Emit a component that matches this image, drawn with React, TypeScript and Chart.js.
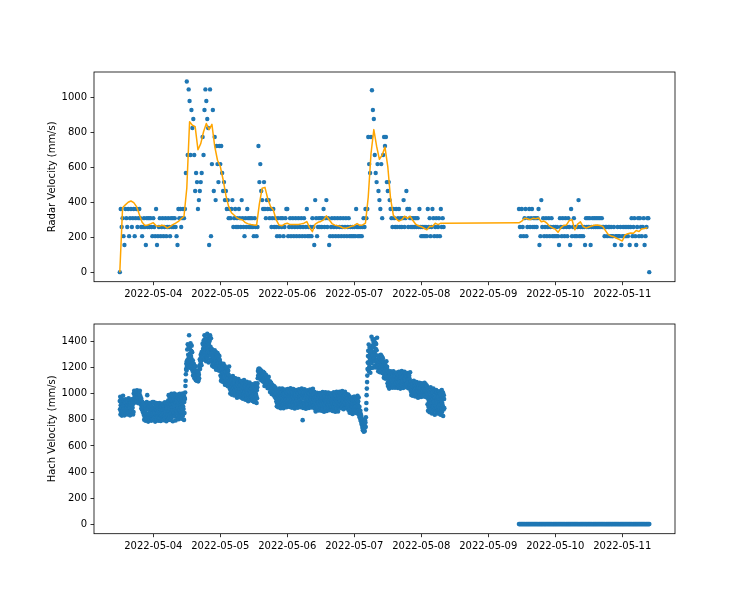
import { useEffect, useRef } from "react";
import { Chart, registerables } from "chart.js";

Chart.register(...registerables);

// Time axis: days since 2022-05-03 00:00
const dayTickValues = [1, 2, 3, 4, 5, 6, 7, 8];
const dayTickLabels = [
  "2022-05-04",
  "2022-05-05",
  "2022-05-06",
  "2022-05-07",
  "2022-05-08",
  "2022-05-09",
  "2022-05-10",
  "2022-05-11",
];
const radarTickValues = [0, 200, 400, 600, 800, 1000];
const hachTickValues = [0, 200, 400, 600, 800, 1000, 1200, 1400];

const RADAR_STEP = 1 / 72; // 20-minute samples
const HACH_STEP = 1 / 288; // 5-minute samples
const SMOOTH_STEP = 1 / 24; // hourly smoothed radar
const RUN1_START = 0.5; // 2022-05-03 12:00
const RUN2_START = 6 + 11 / 24; // 2022-05-09 11:00

// Radar velocity (mm/s), 20-minute samples
const radarMay03 = [0, 361, 258, 309, 206, 155, 361, 309, 258, 361, 206, 309, 361, 258, 309, 361, 206, 309, 361, 258, 309, 361, 309, 258, 206, 258, 309, 258, 155, 309, 258, 309, 258, 309, 258, 206];
const radarMay04 = [
  309, 258, 206, 361, 155, 206, 258, 309, 206, 258, 309, 206, 258, 309, 206, 258, 309, 258, 206, 309, 258, 309, 258, 309, 258, 206, 155, 361, 309, 361, 258, 309, 361, 309,
  361, 567, 1090, 670, 1045, 979, 670, 927, 824, 876, 670, 464, 567, 515, 361, 412, 464, 515, 567, 773, 670, 927, 1045, 979, 876, 824, 155, 1045, 206, 618, 927, 464, 773, 412, 721, 618, 515, 721,
];
const radarMay05 = [
  618, 721, 567, 464, 515, 412, 464, 361, 412, 309, 361,
  309, 361, 412, 258, 309, 361, 258, 309, 258, 361, 309, 258, 412, 309, 258, 206, 309, 258, 361, 309, 258, 309, 258, 309, 258, 206, 309, 258, 206, 258,
  721, 515, 618, 464, 412, 361, 515, 361, 309, 412, 361, 412, 309, 361, 258, 309, 361, 258, 309, 258,
  206, 309, 258, 206, 309, 258, 309, 206, 258, 309, 361,
];
const radarMay06 = [
  361, 206, 258, 309, 206, 258, 309, 206, 258, 309, 206, 258, 309, 206, 258, 309, 206, 258, 309, 206, 258, 361, 206, 258, 206, 258, 206, 309, 258, 155, 412, 309, 206, 258, 309, 258,
  309, 258, 309, 361, 258, 309, 412, 258, 309, 155, 206, 258, 309, 206, 258, 309, 206, 258, 309, 206, 258, 309, 206, 258, 309, 206, 258, 309, 206, 258, 309, 206, 258, 206, 258, 206,
];
const radarMay07 = [
  258, 206, 361, 258, 206, 258, 206, 258, 206, 258, 309, 258,
  361, 309, 361, 773, 618, 567, 773, 1040, 927, 876, 670, 567, 515, 618, 464, 412, 361, 618, 309, 670, 773, 721, 773, 515, 464, 515, 412,
  361, 309, 258, 361, 309, 258, 361, 258, 309, 361, 258, 309, 258, 309, 412, 258, 309, 464, 361, 258, 361, 309, 258, 309, 258, 309, 258, 309, 258, 309, 258, 361, 258,
];
const radarMay08 = [206, 258, 206, 258, 206, 258, 206, 361, 258, 309, 206, 258, 361, 309, 206, 258, 309, 206, 258, 309, 206, 361, 258, 309, 258];
const radarMay09 = [361, 258, 206, 361, 258, 206, 309, 361, 206, 258, 309, 361, 258, 309, 361, 258, 309, 258, 309, 258, 309, 361, 155, 206, 412, 258, 309, 206, 258, 309, 206, 258, 309, 206, 258, 309, 206, 258, 206];
const radarMay10 = [
  258, 206, 258, 206, 155, 309, 258, 206, 309, 258, 206, 309, 258, 206, 309, 258, 155, 361, 206, 258, 309, 206, 258, 206, 258, 412, 206, 258, 206, 258, 206, 258, 155, 309, 258, 309,
  258, 309, 155, 258, 309, 258, 309, 258, 309, 258, 309, 258, 309, 258, 309, 258, 258, 206, 258, 258, 206, 258, 258, 206, 258, 206, 206, 258, 155, 206, 206, 258, 206, 206, 258, 155,
];
const radarMay11 = [206, 258, 206, 258, 206, 258, 206, 258, 155, 258, 309, 206, 258, 309, 206, 155, 258, 309, 206, 309, 258, 206, 258, 309, 155, 206, 258, 309, 309, 0];

// Smoothed radar velocity (mm/s), hourly
const smoothMay03 = [0, 368, 385, 400, 407, 398, 375, 330, 285, 267, 270, 276];
const smoothMay04 = [283, 265, 262, 268, 265, 252, 261, 272, 280, 290, 305, 320, 480, 860, 840, 832, 700, 735, 803, 850, 815, 845, 720, 640];
const smoothMay05 = [604, 530, 440, 375, 340, 325, 310, 302, 298, 283, 276, 272, 270, 268, 390, 480, 485, 420, 375, 355, 300, 270, 265, 275];
const smoothMay06 = [280, 272, 272, 273, 272, 276, 280, 289, 255, 232, 275, 285, 290, 299, 322, 300, 278, 269, 266, 261, 252, 251, 256, 263];
const smoothMay07 = [267, 278, 268, 270, 280, 430, 680, 815, 720, 645, 670, 715, 604, 420, 325, 305, 292, 300, 320, 308, 320, 295, 274, 265];
const smoothMay08 = [260, 251, 242, 262, 261, 280, 272, 280, 280];
const smoothMay09 = [282, 292, 308, 305, 300, 308, 306, 310, 288, 292, 280, 263, 253];
const smoothMay10 = [246, 228, 253, 267, 270, 295, 300, 242, 275, 288, 261, 252, 258, 264, 268, 270, 267, 262, 238, 215, 207, 202, 194, 186];
const smoothMay11 = [178, 213, 220, 224, 222, 238, 232, 248, 250, 254];

// Hach velocity (mm/s), 5-minute samples
const hachMay03 = [
  945, 881, 977, 841, 913, 865, 961, 897, 929, 833, 953, 857, 921, 873, 985, 849, 905, 937,
  887, 952, 835, 920, 867, 939, 933, 880, 959, 848, 907, 867, 946, 893, 920, 841, 939, 861, 913, 874, 965, 854, 900, 926, 887, 952, 835, 920, 867, 939,
  933, 880, 959, 848, 907, 867, 946, 893, 920, 841, 939, 861,
  1003, 963, 1023, 938, 983, 953, 1013, 973, 993, 933, 1008, 948, 988, 958, 1028, 943, 978, 998, 968, 1018, 928, 993, 953, 1008, 1003, 963, 1023, 938, 983, 953,
  953, 916, 965, 890, 920, 880, 940, 895, 915, 860, 925, 870,
  900, 839, 930, 802, 870, 824, 915, 854, 885, 794, 907, 817, 877, 832, 937, 809, 990, 892, 847, 922, 787, 885, 824, 907,
  900, 839, 930, 802, 870, 824, 915, 854, 885, 794, 907, 817, 877, 832, 937, 809, 862, 892,
];
const hachMay04 = [
  877, 832, 937, 809, 862, 892, 847, 922, 787, 885, 824, 907, 900, 839, 930, 802, 870, 824, 915, 854, 885, 794, 907, 817,
  870, 838, 930, 815, 858, 898, 842, 918, 792, 880, 830, 912, 905, 835, 925, 808, 875, 820, 910, 850, 890, 798, 902, 822,
  880, 828, 935, 812, 865, 895, 845, 925, 790, 888, 820, 905, 898, 842, 932, 800,
  948, 863, 990, 811, 906, 842, 969, 884, 927, 800, 958, 832, 916, 853, 1000, 821, 895, 937, 874, 979, 790, 927, 842, 958,
  921, 858, 1003, 826, 900, 942, 879, 984, 795, 932, 847, 963, 953, 868, 995, 816, 911, 847, 974, 889, 932, 805, 963, 837,
  958, 873, 1000, 821, 916, 852, 979, 894, 937, 810, 968, 842, 926, 863, 1003, 831, 905, 947, 884, 989, 800, 937, 852, 968,
  960, 1010, 1060, 1100, 1150, 1190, 1230, 1180, 1250, 1210,
  1340, 1260, 1380, 1210, 1300, 1240, 1360, 1280, 1450, 1200, 1350, 1230, 1310, 1250, 1387, 1220, 1290, 1330, 1270, 1370, 1190, 1320,
  1235, 1175, 1255, 1140, 1200, 1160, 1230, 1180, 1205, 1120, 1215, 1130, 1175, 1140, 1210, 1105,
  1160, 1123, 1178, 1101, 1142, 1114, 1169, 1132, 1151, 1096, 1164, 1110, 1146, 1119,
  1215, 1200, 1265, 1190, 1255, 1230, 1300, 1250, 1285, 1220, 1320, 1270, 1310, 1290, 1385, 1280, 1345, 1375, 1330, 1410,
  1405, 1317, 1449, 1262, 1361, 1295, 1427, 1339, 1383, 1251, 1416, 1284, 1372, 1306, 1460, 1273, 1350, 1394, 1328, 1438, 1240, 1383, 1295, 1416,
  1405, 1317, 1449, 1262, 1361, 1295, 1427, 1339,
  1313, 1252, 1343, 1215, 1283, 1237, 1328, 1267, 1298, 1207, 1320, 1230, 1275, 1230, 1335, 1207, 1260, 1290, 1245, 1320, 1185, 1283, 1222, 1305,
  1283, 1222, 1313, 1185, 1253, 1207, 1298, 1237, 1268, 1177, 1290, 1200, 1260, 1215,
];
const hachMay05 = [
  1205, 1141, 1237, 1101, 1173, 1125, 1221, 1157, 1189, 1093, 1213, 1117,
  1166, 1118, 1230, 1094, 1150, 1182, 1134, 1214, 1070, 1174, 1110, 1198,
  1170, 1106, 1202, 1066, 1138, 1090, 1186, 1122, 1154, 1058, 1178, 1082, 1146, 1098, 1210, 1074,
  1100, 1039, 1130, 1002, 1070, 1024, 1115, 1054, 1085, 994, 1107, 1017, 1077, 1032, 1137, 1009, 1062, 1092, 1047, 1122, 987, 1085, 1024, 1107,
  1060, 1015, 1120, 992, 1045, 1075, 1030, 1105, 970, 1068, 1007, 1090, 1083, 1022, 1113, 985, 1053, 1007, 1098, 1037, 1068, 977, 1090, 1000,
  1068, 1007, 1098, 970, 1038, 992, 1083, 1022, 1053, 962, 1075, 985, 1045, 1000, 1105, 977, 1030, 1060, 1015, 1090, 955, 1053, 992, 1075,
  1033, 988, 1093, 965, 1018, 1048, 1003, 1078, 943, 1041, 980, 1063, 1056, 995, 1086, 958, 1026, 980, 1071, 1010, 1041, 950, 1063, 973,
  1043, 982, 1073, 945, 1013, 967, 1058, 997, 1028, 937, 1050, 960, 1020, 975, 1080, 952, 1005, 1035, 990, 1065, 930, 1028, 967, 1050,
  1080, 1120, 1175, 1140, 1190, 1125, 1160, 1195, 1135, 1170,
  1168, 1131, 1186, 1109, 1150, 1122, 1177, 1140, 1159, 1104,
  1152, 1098, 1134, 1107, 1170, 1093, 1125, 1143, 1116, 1161,
  1060, 1119, 1082, 1132, 1128, 1091, 1146, 1069, 1110, 1082,
  1117, 1080, 1099, 1044, 1112, 1058, 1094, 1067, 1130, 1053,
  1060, 1078, 1051, 1096, 1015, 1074, 1037, 1087, 1083, 1046,
  1076, 999, 1040, 1012, 1067, 1030, 1049, 994, 1062, 1008,
  1021, 994, 1057, 980, 1012, 1030, 1003, 1048, 967, 1026,
  1003, 942, 1033, 905, 973, 927, 1018, 957, 988, 897, 1010, 920, 980, 935, 1040, 912, 965, 995, 950, 1025, 890, 988, 927, 1010,
  980, 935, 1040, 912, 965, 995, 950, 1025, 890, 988, 927, 1010, 1003, 942, 1033, 905, 973, 927, 1018, 957, 988, 897, 1010, 920,
];
const hachMay06 = [
  1006, 945, 1036, 908, 976, 930, 1021, 960, 991, 900, 1013, 923, 983, 938, 1043, 915, 968, 998, 953, 1028, 893, 991, 930, 1013,
  977, 932, 1037, 909, 962, 992, 947, 1022, 887, 985, 924, 1007, 1000, 939, 1030, 902, 970, 924, 1015, 954, 985, 894, 1007, 917,
  1004, 943, 1034, 906, 974, 928, 1019, 958, 989, 898, 1011, 921, 981, 936, 1041, 913, 966, 996, 798, 1026, 891, 989, 928, 1011,
  975, 930, 1035, 907, 960, 990, 945, 1020, 885, 983, 922, 1005, 998, 937, 1028, 900, 968, 922, 1013, 952, 983, 892, 1005, 915,
  1002, 941, 1032, 904, 972, 926, 1017, 956, 987, 896, 1009, 919, 979, 934, 1039, 911, 964, 994,
  955, 910, 1015, 887, 940, 970, 925, 1000, 865, 963, 902, 985, 978, 917, 1008, 880, 948, 902, 993, 932, 963, 872, 985, 895,
  976, 915, 1006, 878, 946, 900, 991, 930, 961, 870, 983, 893, 953, 908, 1013, 885, 938, 968, 923, 998, 863, 961, 900, 983,
  950, 915, 1012, 882, 945, 965, 930, 1005, 868, 958, 905, 990, 975, 920, 1010, 884, 944, 906, 996, 928, 960, 875, 982, 898,
  975, 914, 1005, 877, 945, 899, 990, 929, 960, 869, 982, 892, 952, 907, 1012, 884, 937, 967, 922, 997, 862, 960, 899, 982,
  955, 910, 1015, 887, 940, 970, 925, 1000, 865, 963, 902, 985,
  987, 931, 1015, 896, 959, 917, 1001, 945, 973, 889, 994, 910, 966, 924, 1022, 903, 952, 980, 938, 1008, 882, 973, 917, 994,
  987, 931, 1015, 896, 959, 917, 1001, 945, 973, 889, 994, 910, 966, 924,
  939, 897, 995, 876, 925, 953, 911, 981, 855, 946, 890, 967, 960, 904,
  971, 852, 915, 873, 957, 901, 929, 845, 950, 866, 922, 880, 978, 859,
];
const hachMay07 = [
  950, 894, 978, 859, 922, 880, 964, 908, 936, 852, 957, 873, 929, 887, 985, 866, 915, 943, 901, 971,
  880, 835, 900, 820, 860, 815, 870, 800, 845, 790, 830, 770, 810, 760, 800, 740, 785, 720, 770, 730, 760, 709, 790, 740, 775, 715, 798, 750, 780, 745,
  820, 880, 930, 990, 1040, 1090, 1140, 1190, 1240, 1290,
  1330, 1234, 1378, 1174, 1282, 1210, 1354, 1258, 1306, 1162, 1342, 1198,
  1344, 1272, 1438, 1236, 1320, 1368, 1296, 1416, 1200, 1356, 1260, 1392,
  1370, 1274, 1418, 1214, 1322, 1250, 1394, 1298, 1346, 1202, 1382, 1238, 1334, 1262, 1430, 1226,
  1265, 1209, 1293, 1174, 1237, 1195, 1279, 1223, 1251, 1167, 1272, 1188, 1244, 1202, 1300, 1181, 1230, 1258, 1216, 1286, 1160, 1251, 1195, 1272,
  1215, 1159, 1243, 1124, 1187, 1145, 1229, 1173, 1201, 1117, 1222, 1138, 1194, 1152, 1250, 1131, 1180, 1208,
  1124, 1082, 1180, 1061, 1110, 1138, 1096, 1166, 1040, 1131, 1075, 1152, 1145, 1089, 1173, 1054, 1117, 1075, 1159, 1103, 1131, 1047, 1152, 1068,
  1145, 1089, 1173, 1054, 1117, 1075, 1159, 1103, 1131, 1047, 1152, 1068,
  1138, 1085, 1164, 1053, 1112, 1072, 1151, 1098, 1125, 1046, 1144, 1066, 1118, 1079, 1170, 1059, 1105, 1131, 1092, 1157, 1040, 1125, 1072, 1144,
  1123, 1084, 1175, 1064, 1110, 1136, 1097, 1162, 1045, 1130, 1077, 1149, 1143, 1090, 1169, 1058, 1117, 1077, 1156, 1103, 1130, 1051, 1149, 1071,
  1133, 1080, 1159, 1048, 1107, 1067, 1146, 1093, 1120, 1041, 1139, 1061, 1113, 1074, 1165, 1054,
  1070, 1022, 1094, 992, 1046, 1010, 1082, 1034, 1058, 986, 1076, 1004, 1052, 1016, 1100, 998, 1040, 1064, 1028, 1088, 980, 1058, 1010, 1076,
  1042, 1006, 1090, 988, 1030, 1054, 1018, 1078, 970, 1048, 1000, 1066, 1060, 1012, 1084, 982, 1036, 1000, 1072, 1024, 1048, 976,
];
const hachMay08 = [
  1058, 1013, 1080, 986, 1036, 1002, 1069, 1024, 1047, 980, 1063, 997, 1041, 1008, 1085, 991, 1030, 1052, 1019, 1074, 975, 1047, 1002, 1063, 1058, 1013,
  1000, 920, 1040, 870, 960, 900, 1020, 940, 980, 860, 1010, 890, 970, 910, 1050, 880, 950, 990, 930, 1030, 850, 980, 900, 1010,
  960, 900, 1040, 870, 940, 980, 920, 1020, 840, 970, 890, 1000, 990, 910, 1030, 860, 950, 890, 1010, 930, 970, 850, 1000, 880,
  980, 900, 1020, 850, 940, 880, 1000, 920, 960, 840, 990, 870, 950, 890, 1030, 860, 930, 970, 910, 1010, 830, 960, 880, 990,
  960, 890,
];
// Hach reads 0 for every 20-minute sample of the second run
const hachMay09to11 = new Array(141).fill(0);

type Pt = { x: number; y: number };
const series = (values: number[], start: number, step: number): Pt[] =>
  values.map((y, i) => ({ x: start + i * step, y }));

const radarPoints = [
  ...series([...radarMay03, ...radarMay04, ...radarMay05, ...radarMay06, ...radarMay07, ...radarMay08], RUN1_START, RADAR_STEP),
  ...series([...radarMay09, ...radarMay10, ...radarMay11], RUN2_START, RADAR_STEP),
];
const smoothPoints = [
  ...series([...smoothMay03, ...smoothMay04, ...smoothMay05, ...smoothMay06, ...smoothMay07, ...smoothMay08], RUN1_START, SMOOTH_STEP),
  ...series([...smoothMay09, ...smoothMay10, ...smoothMay11], RUN2_START, SMOOTH_STEP),
];
const hachPoints = [
  ...series([...hachMay03, ...hachMay04, ...hachMay05, ...hachMay06, ...hachMay07, ...hachMay08], RUN1_START, HACH_STEP),
  ...series(hachMay09to11, RUN2_START, RADAR_STEP),
];

const FONT = { family: "'DejaVu Sans', sans-serif", size: 10 };
const BLUE = "#1f77b4";
const ORANGE = "#ffa500";
const X_MIN = 0.115;
const X_MAX = 8.787;

// Full rectangular frame around the plotting area
const framePlugin = {
  id: "frame",
  afterDatasetsDraw(chart: any) {
    const { ctx, chartArea: a } = chart;
    ctx.save();
    ctx.strokeStyle = "#000";
    ctx.lineWidth = 0.8;
    ctx.strokeRect(a.left, a.top, a.right - a.left, a.bottom - a.top);
    ctx.restore();
  },
};

function makeOptions(yMin: number, yMax: number, yTicks: number[], yTitle: string, padTop: number, xHeight: number): any {
  return {
    responsive: false,
    animation: false,
    devicePixelRatio: 1,
    layout: { padding: { left: 42, right: 75, top: padTop, bottom: 0 } },
    plugins: { legend: { display: false }, tooltip: { enabled: false } },
    scales: {
      x: {
        type: "linear",
        min: X_MIN,
        max: X_MAX,
        afterBuildTicks: (s: any) => {
          s.ticks = dayTickValues.map((value) => ({ value }));
        },
        afterFit: (s: any) => {
          s.height = xHeight;
        },
        ticks: {
          autoSkip: false,
          maxRotation: 0,
          minRotation: 0,
          padding: 3,
          color: "#000",
          font: FONT,
          callback: (v: any) => dayTickLabels[dayTickValues.indexOf(Number(v))] ?? "",
        },
        grid: { drawOnChartArea: false, drawTicks: true, tickLength: 3.5, color: "#000", lineWidth: 0.8 },
        border: { display: false },
      },
      y: {
        type: "linear",
        min: yMin,
        max: yMax,
        afterBuildTicks: (s: any) => {
          s.ticks = yTicks.map((value) => ({ value }));
        },
        afterFit: (s: any) => {
          s.width = 52;
        },
        ticks: {
          padding: 3.5,
          color: "#000",
          font: FONT,
          callback: (v: any) => String(v),
        },
        grid: { drawOnChartArea: false, drawTicks: true, tickLength: 3.5, color: "#000", lineWidth: 0.8 },
        border: { display: false },
        title: { display: true, text: yTitle, color: "#000", font: FONT, padding: { top: 4, bottom: 4 } },
      },
    },
  };
}

export default function App() {
  const topRef = useRef<HTMLCanvasElement>(null);
  const bottomRef = useRef<HTMLCanvasElement>(null);

  useEffect(() => {
    const radarChart = new Chart(topRef.current as HTMLCanvasElement, {
      type: "scatter",
      data: {
        datasets: [
          {
            data: radarPoints,
            backgroundColor: BLUE,
            borderWidth: 0,
            pointRadius: 2.2,
            order: 2,
          },
          {
            data: smoothPoints,
            showLine: true,
            borderColor: ORANGE,
            borderWidth: 1.5,
            borderJoinStyle: "round",
            pointRadius: 0,
            order: 1,
          } as any,
        ],
      },
      options: makeOptions(-54.5, 1144.5, radarTickValues, "Radar Velocity (mm/s)", 72, 28.3),
      plugins: [framePlugin],
    });

    const hachChart = new Chart(bottomRef.current as HTMLCanvasElement, {
      type: "scatter",
      data: {
        datasets: [
          {
            data: hachPoints,
            backgroundColor: BLUE,
            borderWidth: 0,
            pointRadius: 2.3,
          },
        ],
      },
      options: makeOptions(-73.5, 1536, hachTickValues, "Hach Velocity (mm/s)", 14, 66.3),
      plugins: [framePlugin],
    });

    return () => {
      radarChart.destroy();
      hachChart.destroy();
    };
  }, []);

  return (
    <div style={{ position: "absolute", left: 0, top: 0, width: 750, height: 600, background: "#fff" }}>
      <canvas
        ref={topRef}
        width={750}
        height={310}
        style={{ position: "absolute", left: 0, top: 0, width: 750, height: 310, display: "block" }}
      />
      <canvas
        ref={bottomRef}
        width={750}
        height={290}
        style={{ position: "absolute", left: 0, top: 310, width: 750, height: 290, display: "block" }}
      />
    </div>
  );
}
